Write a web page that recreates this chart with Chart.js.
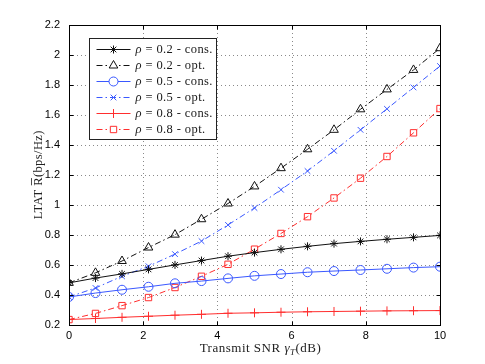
<!DOCTYPE html>
<html>
<head>
<meta charset="utf-8">
<script src="https://cdn.jsdelivr.net/npm/chart.js@4"></script>
<style>
  html, body { margin: 0; padding: 0; background: #fff; }
  #chart { display: block; }
</style>
</head>
<body>
<canvas id="chart" width="485" height="364"></canvas>
<script>
// transmit SNR (dB) sample points
const snr = [0, 0.714, 1.429, 2.143, 2.857, 3.571, 4.286, 5, 5.714, 6.429, 7.143, 7.857, 8.571, 9.286, 10];

// LTAT values
const rho02Cons = [0.478, 0.510, 0.538, 0.568, 0.598, 0.627, 0.656, 0.680, 0.702, 0.722, 0.740, 0.755, 0.769, 0.782, 0.795];
const rho02Opt  = [0.478, 0.545, 0.624, 0.714, 0.800, 0.903, 1.008, 1.122, 1.244, 1.370, 1.500, 1.637, 1.770, 1.900, 2.045];
const rho05Cons = [0.384, 0.410, 0.432, 0.452, 0.475, 0.490, 0.508, 0.525, 0.537, 0.549, 0.557, 0.564, 0.572, 0.580, 0.586];
const rho05Opt  = [0.384, 0.444, 0.522, 0.589, 0.670, 0.757, 0.865, 0.978, 1.100, 1.225, 1.360, 1.500, 1.640, 1.783, 1.926];
const rho08Cons = [0.233, 0.240, 0.248, 0.255, 0.262, 0.268, 0.275, 0.278, 0.282, 0.285, 0.287, 0.289, 0.291, 0.292, 0.293];
const rho08Opt  = [0.233, 0.274, 0.326, 0.380, 0.447, 0.522, 0.602, 0.703, 0.808, 0.920, 1.045, 1.177, 1.322, 1.480, 1.642];

const seriesLabels = ['ρ = 0.2 - cons.', 'ρ = 0.2 - opt.', 'ρ = 0.5 - cons.', 'ρ = 0.5 - opt.', 'ρ = 0.8 - cons.', 'ρ = 0.8 - opt.'];
const xTicks = [0, 2, 4, 6, 8, 10];
const yTicks = [0.2, 0.4, 0.6, 0.8, 1, 1.2, 1.4, 1.6, 1.8, 2, 2.2];

const BLACK = '#111111';
const BLUE = '#3a58ff';
const RED = '#ff2e2e';
const DASHDOT = [6, 3, 1.5, 3];

function toPoints(ys) {
    return snr.map((x, i) => ({ x: x, y: ys[i] }));
}

function makeSet(label, ys, color, style, dash, radius) {
    return {
        label: label,
        data: toPoints(ys),
        borderColor: color,
        backgroundColor: 'rgba(0,0,0,0)',
        borderWidth: 1,
        borderDash: dash,
        pointStyle: style,
        pointRadius: radius,
        pointBorderColor: color,
        pointBackgroundColor: 'rgba(0,0,0,0)',
        pointBorderWidth: 1,
        tension: 0,
        fill: false
    };
}

const datasets = [
    makeSet(seriesLabels[0], rho02Cons, BLACK, 'star', [], 4),
    makeSet(seriesLabels[1], rho02Opt, BLACK, 'triangle', DASHDOT, 5),
    makeSet(seriesLabels[2], rho05Cons, BLUE, 'circle', [], 4.5),
    makeSet(seriesLabels[3], rho05Opt, BLUE, 'crossRot', DASHDOT, 4),
    makeSet(seriesLabels[4], rho08Cons, RED, 'cross', [], 4.5),
    makeSet(seriesLabels[5], rho08Opt, RED, 'rect', DASHDOT, 4.5)
];

// dotted grid, inward ticks and the box, matlab style
const framePlugin = {
    id: 'frame',
    beforeDatasetsDraw(chart) {
        const ctx = chart.ctx;
        const a = chart.chartArea;
        const xs = chart.scales.x, ys = chart.scales.y;
        ctx.save();
        ctx.strokeStyle = '#8a8a8a';
        ctx.lineWidth = 1;
        ctx.setLineDash([1, 3]);
        xTicks.forEach(v => {
            const px = Math.round(xs.getPixelForValue(v)) + 0.5;
            ctx.beginPath(); ctx.moveTo(px, a.top); ctx.lineTo(px, a.bottom); ctx.stroke();
        });
        yTicks.forEach(v => {
            const py = Math.round(ys.getPixelForValue(v)) + 0.5;
            ctx.beginPath(); ctx.moveTo(a.left, py); ctx.lineTo(a.right, py); ctx.stroke();
        });
        ctx.restore();
    },
    afterDatasetsDraw(chart) {
        const ctx = chart.ctx;
        const a = chart.chartArea;
        const xs = chart.scales.x, ys = chart.scales.y;
        const L = Math.round(a.left) + 0.5, R = Math.round(a.right) + 0.5;
        const T = Math.round(a.top) + 0.5, B = Math.round(a.bottom) + 0.5;
        ctx.save();
        ctx.strokeStyle = '#000';
        ctx.lineWidth = 1;
        ctx.setLineDash([]);
        ctx.strokeRect(L, T, R - L, B - T);
        ctx.beginPath();
        xTicks.forEach(v => {
            const px = Math.round(xs.getPixelForValue(v)) + 0.5;
            ctx.moveTo(px, B); ctx.lineTo(px, B - 4);
            ctx.moveTo(px, T); ctx.lineTo(px, T + 4);
        });
        yTicks.forEach(v => {
            const py = Math.round(ys.getPixelForValue(v)) + 0.5;
            ctx.moveTo(L, py); ctx.lineTo(L + 4, py);
            ctx.moveTo(R, py); ctx.lineTo(R - 4, py);
        });
        ctx.stroke();
        ctx.restore();
    }
};

// legend box in the upper left corner of the axes
const legendPlugin = {
    id: 'boxLegend',
    afterDraw(chart) {
        const ctx = chart.ctx;
        const a = chart.chartArea;
        const bx = a.left + 20.5, by = a.top + 13.5, bw = 127, bh = 101;
        ctx.save();
        ctx.fillStyle = '#fff';
        ctx.fillRect(bx, by, bw, bh);
        ctx.strokeStyle = '#222';
        ctx.lineWidth = 1;
        ctx.strokeRect(bx, by, bw, bh);
        chart.data.datasets.forEach((ds, i) => {
            const y = by + 11 + i * 16;
            const x0 = bx + 7, x1 = bx + 41, xm = bx + 24;
            ctx.strokeStyle = ds.borderColor;
            ctx.lineWidth = 1;
            ctx.setLineDash(ds.borderDash);
            ctx.beginPath(); ctx.moveTo(x0, y); ctx.lineTo(x1, y); ctx.stroke();
            ctx.setLineDash([]);
            ctx.fillStyle = '#fff';
            Chart.helpers.drawPoint(ctx, {
                pointStyle: ds.pointStyle, radius: ds.pointRadius, borderWidth: 1, rotation: 0
            }, xm, y);
            // label: italic rho then the rest
            ctx.fillStyle = '#1a1a1a';
            ctx.textBaseline = 'middle';
            ctx.textAlign = 'left';
            ctx.letterSpacing = '0.4px';
            ctx.font = 'italic 12.5px "Liberation Serif"';
            ctx.fillText('ρ', bx + 46, y);
            const w = ctx.measureText('ρ').width;
            ctx.font = '12.5px "Liberation Serif"';
            ctx.fillText(ds.label.slice(1), bx + 46 + w, y);
        });
        ctx.restore();
    }
};

// axis titles with the subscript and the bar accent
const titlePlugin = {
    id: 'axisTitles',
    afterDraw(chart) {
        const ctx = chart.ctx;
        const a = chart.chartArea;
        ctx.save();
        ctx.fillStyle = '#222';
        ctx.textBaseline = 'alphabetic';
        ctx.textAlign = 'left';
        ctx.letterSpacing = '0.5px';
        // x title
        const parts = [
            ['Transmit SNR ', '13px "Liberation Serif"', 0],
            ['γ', 'italic 13px "Liberation Serif"', 0],
            ['T', 'italic 9px "Liberation Serif"', 2.5],
            ['(dB)', '13px "Liberation Serif"', 0]
        ];
        let total = 0;
        parts.forEach(p => { ctx.font = p[1]; total += ctx.measureText(p[0]).width; });
        let x = (a.left + a.right) / 2 - total / 2 + 6;
        const yBase = 352;
        parts.forEach(p => {
            ctx.font = p[1];
            ctx.fillText(p[0], x, yBase + p[2]);
            x += ctx.measureText(p[0]).width;
        });
        // y title
        ctx.translate(42, (a.top + a.bottom) / 2);
        ctx.rotate(-Math.PI / 2);
        const yparts = ['LTAT ', 'R', '(bps/Hz)'];
        ctx.font = '12.5px "Liberation Serif"';
        ctx.letterSpacing = '0.4px';
        total = 0;
        yparts.forEach(p => { total += ctx.measureText(p).width; });
        x = -total / 2;
        yparts.forEach((p, i) => {
            ctx.fillText(p, x, 0);
            const w = ctx.measureText(p).width;
            if (i === 1) {
                ctx.fillRect(x + 0.5, -11, w - 1.5, 0.8);
            }
            x += w;
        });
        ctx.restore();
    }
};

function fmt(v) {
    return String(Number(v.toFixed(1)));
}

const ctx = document.getElementById('chart').getContext('2d');
const chart = new Chart(ctx, {
    type: 'line',
    data: { datasets: datasets },
    options: {
        responsive: false,
        animation: false,
        devicePixelRatio: 1,
        layout: { padding: { top: 25, right: 45, left: 0, bottom: 0 } },
        plugins: {
            legend: { display: false },
            tooltip: { enabled: false }
        },
        scales: {
            x: {
                type: 'linear',
                min: 0,
                max: 10,
                afterFit: s => { s.height = 39.5; },
                afterBuildTicks: s => { s.ticks = xTicks.map(v => ({ value: v })); },
                grid: { display: false, drawTicks: false },
                border: { display: false },
                ticks: {
                    color: '#000',
                    padding: 5,
                    maxRotation: 0,
                    font: { family: '"Liberation Sans", Arial, sans-serif', size: 11 },
                    callback: v => fmt(v)
                }
            },
            y: {
                type: 'linear',
                min: 0.2,
                max: 2.2,
                afterFit: s => { s.width = 69; },
                afterBuildTicks: s => { s.ticks = yTicks.map(v => ({ value: v })); },
                grid: { display: false, drawTicks: false },
                border: { display: false },
                ticks: {
                    color: '#000',
                    padding: 9,
                    font: { family: '"Liberation Sans", Arial, sans-serif', size: 11 },
                    callback: v => fmt(v)
                }
            }
        }
    },
    plugins: [framePlugin, legendPlugin, titlePlugin]
});
</script>
</body>
</html>
